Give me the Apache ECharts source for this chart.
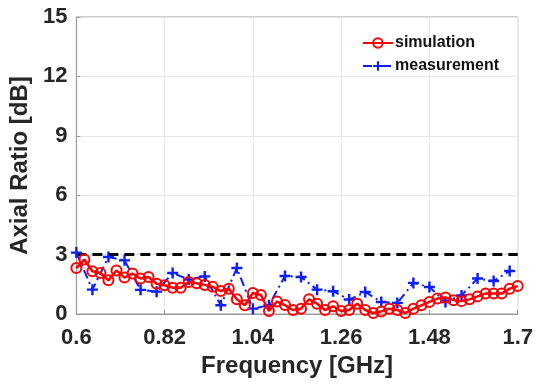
<!DOCTYPE html>
<html><head><meta charset="utf-8">
<script src="https://cdn.jsdelivr.net/npm/echarts@6/dist/echarts.min.js"></script>
<style>html,body{margin:0;padding:0;background:#fff}#c{width:536px;height:386px}</style>
</head><body><div id="c"></div>
<script>
const simFreq = [0.60,0.62,0.64,0.66,0.68,0.70,0.72,0.74,0.76,0.78,0.80,0.82,0.84,0.86,0.88,0.90,0.92,0.94,0.96,0.98,1.00,1.02,1.04,1.06,1.08,1.10,1.12,1.14,
  1.16,1.18,1.20,1.22,1.24,1.26,1.28,1.30,1.32,1.34,1.36,1.38,1.40,1.42,1.44,1.46,1.48,1.50,1.52,1.54,1.56,1.58,1.60,1.62,1.64,1.66,1.68,1.70];
const simAR = [2.32,2.75,2.16,2.07,1.70,2.20,1.84,2.04,1.79,1.87,1.53,1.45,1.33,1.33,1.62,1.55,1.47,1.37,1.16,1.28,0.74,0.44,1.06,0.96,0.15,0.63,0.45,0.20,
  0.27,0.74,0.52,0.20,0.39,0.15,0.20,0.52,0.20,0.05,0.13,0.27,0.20,0.05,0.27,0.44,0.61,0.78,0.83,0.70,0.65,0.74,0.89,1.03,1.03,1.03,1.28,1.41];
const measFreq = [0.60,0.64,0.68,0.72,0.76,0.80,0.84,0.88,0.92,0.96,1.00,1.04,1.08,1.12,1.16,1.20,1.24,1.28,1.32,1.36,1.40,1.44,1.48,1.52,1.56,1.60,1.64,1.68];
const measAR = [3.10,1.23,2.88,2.71,1.22,1.13,2.07,1.74,1.90,0.44,2.32,0.27,0.44,1.92,1.87,1.23,1.15,0.73,1.11,0.61,0.56,1.57,1.36,0.61,0.94,1.79,1.67,2.17];
const limitFreq = [0.6, 1.7];
const limitAR = [3, 3];
const xTicks = [0.6, 0.82, 1.04, 1.26, 1.48, 1.7];
const yTicks = [0, 3, 6, 9, 12, 15];
const seriesNames = ['simulation', 'measurement'];
const xTitle = 'Frequency [GHz]';
const yTitle = 'Axial Ratio [dB]';

const zip = (a, b) => a.map((v, i) => [v, b[i]]);
const FONT = 'Liberation Sans, Arial, sans-serif';
const plus = 'path://M-1.1,-5H1.1V-1.1H5V1.1H1.1V5H-1.1V1.1H-5V-1.1H-1.1Z';

const chart = echarts.init(document.getElementById('c'), null, {renderer: 'canvas'});
chart.setOption({
  animation: false,
  backgroundColor: '#fff',
  grid: {left: 75, right: 15, top: 17, bottom: 72, show: true, borderColor: '#999', borderWidth: 1, backgroundColor: 'transparent'},
  legend: {
    data: [
      {name: seriesNames[0]},
      {name: seriesNames[1]}
    ],
    orient: 'vertical', left: 362, top: 35, itemWidth: 30, itemHeight: 12, itemGap: 7,
    textStyle: {fontFamily: FONT, fontWeight: 'bold', fontSize: 16, color: '#111', padding: [0,0,0,-3]},
    padding: 0
  },
  xAxis: {
    type: 'value', min: xTicks[0], max: xTicks[xTicks.length - 1], interval: 0.22,
    name: xTitle, nameLocation: 'middle', nameGap: 36,
    nameTextStyle: {fontFamily: FONT, fontWeight: 'bold', fontSize: 24, color: '#262626'},
    axisLine: {show: true, lineStyle: {color: '#999', width: 1}},
    axisTick: {show: true, inside: true, length: 4, lineStyle: {color: '#999'}},
    axisLabel: {margin: 13, fontFamily: FONT, fontWeight: 'bold', fontSize: 22, color: '#262626',
      formatter: v => String(Math.round(v * 100) / 100)},
    splitLine: {show: true, lineStyle: {color: '#e6e6e6', width: 1}}
  },
  yAxis: {
    type: 'value', min: yTicks[0], max: yTicks[yTicks.length - 1], interval: 3,
    name: yTitle, nameLocation: 'middle', nameGap: 39,
    nameTextStyle: {fontFamily: FONT, fontWeight: 'bold', fontSize: 24, color: '#262626'},
    axisLine: {show: true, lineStyle: {color: '#999', width: 1}},
    axisTick: {show: true, inside: true, length: 4, lineStyle: {color: '#999'}},
    axisLabel: {margin: 9, fontFamily: FONT, fontWeight: 'bold', fontSize: 22, color: '#262626'},
    splitLine: {show: true, lineStyle: {color: '#e6e6e6', width: 1}}
  },
  series: [
    {
      name: 'limit', type: 'line', data: zip(limitFreq, limitAR), symbol: 'none', silent: true,
      lineStyle: {color: '#000', width: 3, type: [10, 6]}, z: 1
    },
    {
      name: seriesNames[1], type: 'line', data: zip(measFreq, measAR),
      symbol: plus, symbolSize: 11,
      itemStyle: {color: '#0a1eff'},
      lineStyle: {color: '#0a1eff', width: 2, type: [9, 4, 2, 4]}, z: 2
    },
    {
      name: seriesNames[0], type: 'line', data: zip(simFreq, simAR),
      symbol: 'circle', symbolSize: 10,
      itemStyle: {color: 'rgba(255,255,255,0)', borderColor: '#f00', borderWidth: 2},
      lineStyle: {color: '#f00', width: 2.5}, z: 3
    }
  ]
});
</script>
</body></html>
